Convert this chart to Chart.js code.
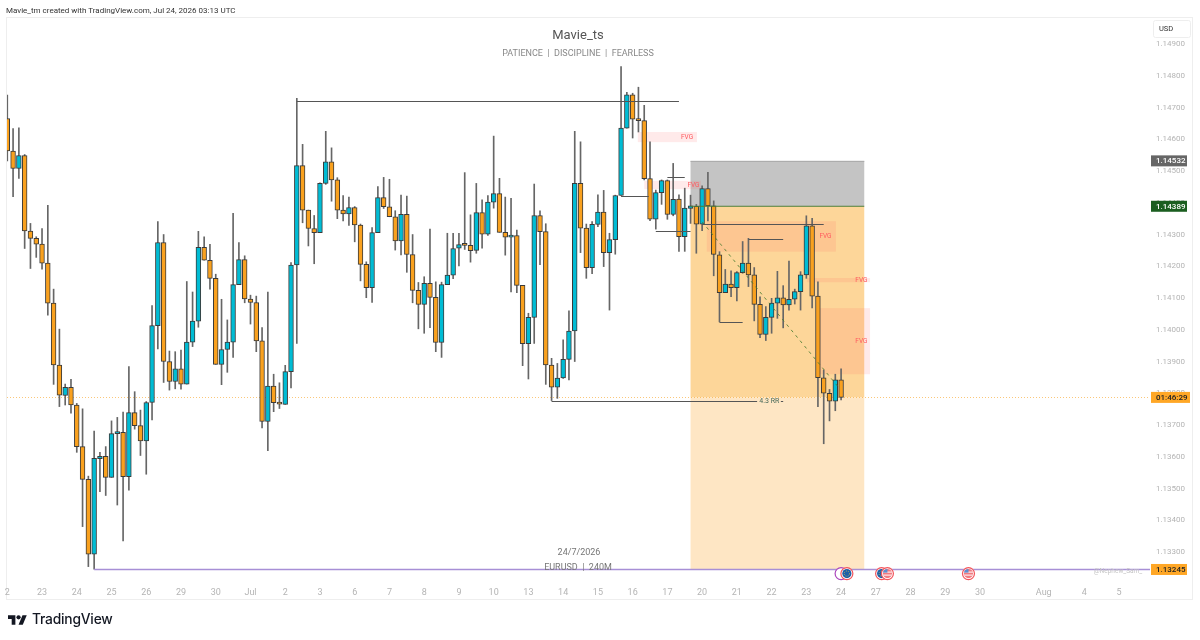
<!DOCTYPE html>
<html>
<head>
<meta charset="utf-8">
<script src="https://cdn.jsdelivr.net/npm/chart.js@4"></script>
<style>
  body { margin: 0; background: #fff; width: 1200px; height: 640px; overflow: hidden; position: relative; }
  #frame { position: absolute; left: 6px; top: 17px; width: 1187px; height: 583px; border: 1px solid #eeeeee; box-sizing: border-box; }
  #chart { position: absolute; left: 0; top: 0; }
  #logo { position: absolute; left: 8px; top: 615px; }
  #brand { position: absolute; left: 32px; top: 611px; font: 500 13.8px Inter, sans-serif; color: #131722; letter-spacing: -0.2px; }
</style>
</head>
<body>
<div id="frame"></div>
<canvas id="chart" width="1200" height="640"></canvas>
<svg id="logo" width="19" height="10" viewBox="0 0 36 18" fill="#131722">
  <path d="M14 18H7V7H0V0h14z"/><circle cx="20" cy="4" r="4"/><path d="M28 18h-8l7.5-18h8z"/>
</svg>
<div id="brand">TradingView</div>
<script>
const openPrices = [
  1.14665,1.14563,1.14508,1.14549,1.14311,1.14288,1.14270,1.14210,1.14084,1.13889,
  1.13793,1.13819,1.13763,1.13632,1.13529,1.13293,1.13594,1.13601,1.13535,1.13673,
  1.13677,1.13537,1.13739,1.13698,1.13650,1.13771,1.14013,1.14275,1.13900,1.13837,
  1.13877,1.13829,1.13961,1.14027,1.14260,1.14219,1.14162,1.13891,1.13938,1.13961,
  1.14142,1.14221,1.14097,1.14086,1.13965,1.13711,1.13823,1.13770,1.13765,1.13868,
  1.14204,1.14517,1.14377,1.14319,1.14306,1.14461,1.14529,1.14472,1.14377,1.14365,
  1.14385,1.14330,1.14206,1.14133,1.14306,1.14416,1.14387,1.14356,1.14280,1.14364,
  1.14237,1.14124,1.14080,1.14146,1.14102,1.13960,1.14142,1.14172,1.14257,1.14269,
  1.14266,1.14250,1.14369,1.14301,1.14402,1.14429,1.14307,1.14292,1.14297,1.14140,
  1.13956,1.14039,1.14360,1.14309,1.13889,1.13819,1.13848,1.13907,1.13996,1.14461,
  1.14320,1.14196,1.14332,1.14371,1.14243,1.14284,1.14423,1.14635,1.14740,1.14663,
  1.14659,1.14476,1.14348,1.14432,1.14470,1.14363,1.14412,1.14293,1.14382,1.14389,
  1.14333,1.14445,1.14390,1.14236,1.14117,1.14144,1.14133,1.14180,1.14210,1.14173,
  1.14080,1.13985,1.14039,1.14084,1.14101,1.14078,1.14096,1.14120,1.14173,1.14327,
  1.14106,1.13849,1.13800,1.13775,1.13842
];
const highPrices = [
  1.14739,1.14634,1.14636,1.14552,1.14335,1.14293,1.14319,1.14392,1.14128,1.14002,
  1.13829,1.13844,1.13768,1.13751,1.13539,1.13681,1.13614,1.13632,1.13713,1.13724,
  1.13741,1.13884,1.13805,1.13747,1.13774,1.14076,1.14341,1.14300,1.13933,1.13931,
  1.13936,1.14152,1.14119,1.14310,1.14293,1.14269,1.14175,1.14096,1.14031,1.14367,
  1.14275,1.14233,1.14109,1.14106,1.14007,1.14119,1.13860,1.13833,1.13888,1.14212,
  1.14729,1.14584,1.14377,1.14360,1.14463,1.14625,1.14573,1.14479,1.14423,1.14418,
  1.14388,1.14333,1.14214,1.14322,1.14451,1.14480,1.14474,1.14375,1.14424,1.14421,
  1.14300,1.14149,1.14167,1.14317,1.14151,1.14150,1.14304,1.14304,1.14304,1.14495,
  1.14362,1.14461,1.14409,1.14423,1.14610,1.14477,1.14418,1.14414,1.14314,1.14140,
  1.14052,1.14459,1.14375,1.14334,1.13910,1.13894,1.13968,1.14060,1.14625,1.14592,
  1.14333,1.14341,1.14425,1.14439,1.14304,1.14424,1.14829,1.14748,1.14745,1.14764,
  1.14707,1.14592,1.14440,1.14472,1.14472,1.14524,1.14425,1.14446,1.14424,1.14395,
  1.14453,1.14496,1.14406,1.14246,1.14190,1.14186,1.14183,1.14278,1.14288,1.14196,
  1.14104,1.14073,1.14099,1.14184,1.14139,1.14216,1.14128,1.14183,1.14359,1.14351,
  1.14151,1.13873,1.13812,1.13860,1.13877
];
const lowPrices = [
  1.14532,1.14419,1.14477,1.14256,1.14193,1.14228,1.14191,1.14046,1.13828,1.13758,
  1.13763,1.13737,1.13614,1.13380,1.13254,1.13246,1.13490,1.13478,1.13535,1.13448,
  1.13335,1.13495,1.13687,1.13604,1.13545,1.13716,1.13940,1.13834,1.13810,1.13814,
  1.13813,1.13829,1.13947,1.14008,1.14219,1.14128,1.13891,1.13827,1.13866,1.13913,
  1.14142,1.14085,1.14018,1.13931,1.13691,1.13619,1.13742,1.13752,1.13765,1.13817,
  1.13957,1.14337,1.14264,1.14208,1.14306,1.14458,1.14405,1.14350,1.14343,1.14329,
  1.14277,1.14154,1.14101,1.14086,1.14306,1.14382,1.14356,1.14251,1.14236,1.14181,
  1.14085,1.14003,1.13989,1.14007,1.13931,1.13913,1.14142,1.14161,1.14201,1.14253,
  1.14213,1.14241,1.14257,1.14297,1.14383,1.14307,1.14235,1.14119,1.14117,1.13887,
  1.13845,1.13957,1.14205,1.13828,1.13777,1.13784,1.13847,1.13842,1.13900,1.14243,
  1.14162,1.14177,1.14325,1.14199,1.14062,1.14238,1.14423,1.14635,1.14604,1.14623,
  1.14472,1.14344,1.14317,1.14395,1.14348,1.14359,1.14247,1.14247,1.14335,1.14241,
  1.14312,1.14343,1.14170,1.14025,1.14117,1.14104,1.14091,1.14178,1.14136,1.14028,
  1.13975,1.13966,1.13989,1.14036,1.14006,1.14062,1.14081,1.14062,1.14162,1.14069,
  1.13758,1.13641,1.13713,1.13745,1.13779
];
const closePrices = [
  1.14563,1.14508,1.14549,1.14311,1.14288,1.14270,1.14210,1.14084,1.13889,1.13794,
  1.13819,1.13763,1.13632,1.13529,1.13293,1.13595,1.13601,1.13535,1.13673,1.13677,
  1.13537,1.13739,1.13698,1.13650,1.13771,1.14013,1.14275,1.13900,1.13837,1.13877,
  1.13829,1.13961,1.14027,1.14260,1.14219,1.14162,1.13891,1.13938,1.13961,1.14142,
  1.14221,1.14097,1.14086,1.13965,1.13711,1.13823,1.13770,1.13766,1.13868,1.14204,
  1.14517,1.14377,1.14319,1.14306,1.14461,1.14529,1.14472,1.14377,1.14365,1.14385,
  1.14330,1.14206,1.14133,1.14306,1.14416,1.14388,1.14356,1.14280,1.14364,1.14237,
  1.14124,1.14080,1.14146,1.14102,1.13960,1.14142,1.14172,1.14256,1.14268,1.14266,
  1.14249,1.14369,1.14301,1.14402,1.14429,1.14307,1.14292,1.14296,1.14140,1.13956,
  1.14039,1.14360,1.14309,1.13889,1.13819,1.13848,1.13907,1.13996,1.14461,1.14320,
  1.14196,1.14332,1.14371,1.14243,1.14284,1.14423,1.14635,1.14740,1.14663,1.14659,
  1.14476,1.14348,1.14432,1.14470,1.14363,1.14411,1.14293,1.14383,1.14390,1.14333,
  1.14445,1.14390,1.14237,1.14117,1.14144,1.14133,1.14180,1.14210,1.14173,1.14080,
  1.13985,1.14039,1.14084,1.14101,1.14078,1.14096,1.14120,1.14173,1.14327,1.14106,
  1.13849,1.13800,1.13775,1.13842,1.13787
];

const priceTicks = [1.133,1.134,1.135,1.136,1.137,1.138,1.139,1.14,1.141,1.142,1.143,1.144,1.145,1.146,1.147,1.148,1.149];
const dayTickBars = [0,6,12,18,24,30,36,42,48,54,60,66,72,78,84,90,96,102,108,114,120,126,132,138,144,150,156,162,168,179,186,192];
const dayTickLabels = ["2","23","24","25","26","29","30","Jul","2","3","6","7","8","9","10","13","14","15","16","17","20","21","22","23","24","27","28","29","30","Aug","4","5"];

// position tool levels
const tradeFrom = 118, tradeTo = 148;
const stopPrice = 1.14532, entryPrice = 1.14389, markPrice = 1.13787, targetPrice = 1.13245;

// fair value gaps
const fvgFrom = [108.9, 110, 120.8, 138.1, 140];
const fvgTo = [119.1, 119.8, 143.1, 149, 149];
const fvgHigh = [1.14623, 1.14469, 1.14342, 1.14163, 1.14068];
const fvgLow = [1.14591, 1.14443, 1.14246, 1.14150, 1.13860];
const fvgLabelBar = [117.4, 118.5, 141.3, 147.5, 147.5];

// horizontal drawn levels
const levelFrom = [50, 106, 112, 114, 94, 133.6, 120, 128, 123];
const levelTo = [116, 110.8, 118, 117, 129.5, 134, 141, 134, 127];
const levelPrice = [1.14720, 1.14420, 1.14312, 1.14482, 1.13775, 1.13775, 1.14333, 1.14287, 1.14025];

const trendBars = [120, 143.5];
const trendPrices = [1.14340, 1.13820];

const eventBars = [144, 145, 151, 152, 166];
const eventKinds = ["ring", "eu", "eu", "us", "us"];
const eventPrice = 1.13232;

const badgePrices = [1.14532, 1.14389, 1.13787, 1.13245];
const badgeLabels = ["1.14532", "1.14389", "01:46:29", "1.13245"];

const barIndex = openPrices.map((_, i) => i);
const upColor = "#00bcd4";
const downColor = "#f9a11f";
const font = "Roboto, sans-serif";

const overlayPlugin = {
  id: "overlay",
  beforeDatasetsDraw(chart) {
    const { ctx, scales: { x, y } } = chart;
    const left = x.getPixelForValue(tradeFrom), right = x.getPixelForValue(tradeTo);
    const band = (hi, lo, color) => {
      ctx.fillStyle = color;
      ctx.fillRect(left, y.getPixelForValue(hi), right - left, y.getPixelForValue(lo) - y.getPixelForValue(hi));
    };
    ctx.save();
    band(stopPrice, entryPrice, "#c4c4c4");
    band(entryPrice, markPrice, "#fdd699");
    band(markPrice, targetPrice, "#fee6c4");
    ctx.fillStyle = "#a8a8a8";
    ctx.fillRect(left, y.getPixelForValue(stopPrice), right - left, 1);

    // dotted line at the last price
    ctx.strokeStyle = "rgba(249,161,31,0.6)";
    ctx.setLineDash([1, 2]);
    ctx.beginPath();
    const markY = Math.round(y.getPixelForValue(markPrice)) + 0.5;
    ctx.moveTo(x.left, markY);
    ctx.lineTo(x.right, markY);
    ctx.stroke();
    ctx.setLineDash([]);

    ctx.fillStyle = "rgba(255,90,90,0.13)";
    fvgFrom.forEach((from, i) => {
      const x0 = x.getPixelForValue(from), x1 = x.getPixelForValue(fvgTo[i]);
      const y0 = y.getPixelForValue(fvgHigh[i]), y1 = y.getPixelForValue(fvgLow[i]);
      ctx.fillRect(x0, y0, x1 - x0, y1 - y0);
    });
    ctx.restore();
  },
  afterDatasetsDraw(chart) {
    const { ctx, scales: { x, y } } = chart;
    ctx.save();

    ctx.strokeStyle = "#4f7f3a";
    ctx.lineWidth = 1;
    ctx.beginPath();
    ctx.moveTo(x.getPixelForValue(tradeFrom), y.getPixelForValue(entryPrice));
    ctx.lineTo(x.getPixelForValue(tradeTo), y.getPixelForValue(entryPrice));
    ctx.stroke();

    ctx.strokeStyle = "#555";
    levelFrom.forEach((from, i) => {
      const py = Math.round(y.getPixelForValue(levelPrice[i])) + 0.5;
      ctx.beginPath();
      ctx.moveTo(x.getPixelForValue(from), py);
      ctx.lineTo(x.getPixelForValue(levelTo[i]), py);
      ctx.stroke();
    });

    ctx.strokeStyle = "#a78fd6";
    ctx.lineWidth = 1.3;
    ctx.beginPath();
    const targetY = Math.round(y.getPixelForValue(targetPrice)) + 0.5;
    ctx.moveTo(x.getPixelForValue(15), targetY);
    ctx.lineTo(x.right, targetY);
    ctx.stroke();
    ctx.lineWidth = 1;

    ctx.strokeStyle = "rgba(76,125,50,0.85)";
    ctx.setLineDash([3, 4]);
    ctx.beginPath();
    ctx.moveTo(x.getPixelForValue(trendBars[0]), y.getPixelForValue(trendPrices[0]));
    ctx.lineTo(x.getPixelForValue(trendBars[1]), y.getPixelForValue(trendPrices[1]));
    ctx.stroke();
    ctx.setLineDash([]);

    // labels on the drawings
    ctx.textAlign = "center";
    ctx.textBaseline = "middle";
    ctx.font = "6.5px " + font;
    ctx.fillStyle = "#ff5a5f";
    fvgLabelBar.forEach((bar, i) => {
      ctx.fillText("FVG", x.getPixelForValue(bar), y.getPixelForValue((fvgHigh[i] + fvgLow[i]) / 2));
    });
    ctx.fillStyle = "#4a6a5a";
    ctx.font = "7px " + font;
    ctx.fillText("4.3 RR", x.getPixelForValue(131.6), y.getPixelForValue(levelPrice[4]));

    // news events on the time axis
    eventBars.forEach((bar, i) => {
      const cx = x.getPixelForValue(bar), cy = y.getPixelForValue(eventPrice);
      const kind = eventKinds[i];
      ctx.beginPath();
      ctx.arc(cx, cy, 6, 0, Math.PI * 2);
      ctx.fillStyle = "#fff";
      ctx.fill();
      ctx.lineWidth = 1.2;
      ctx.strokeStyle = kind === "ring" ? "#ab47bc" : "#f2545b";
      ctx.stroke();
      if (kind === "ring") return;
      ctx.save();
      ctx.beginPath();
      ctx.arc(cx, cy, 4.6, 0, Math.PI * 2);
      ctx.clip();
      if (kind === "eu") {
        ctx.fillStyle = "#1d5fa8";
        ctx.fillRect(cx - 5, cy - 5, 10, 10);
        ctx.strokeStyle = "#d9c24a";
        ctx.lineWidth = 0.8;
        ctx.setLineDash([1, 1.2]);
        ctx.beginPath();
        ctx.arc(cx, cy, 2.6, 0, Math.PI * 2);
        ctx.stroke();
        ctx.setLineDash([]);
      } else {
        ctx.fillStyle = "#f07a80";
        ctx.fillRect(cx - 5, cy - 5, 10, 10);
        ctx.fillStyle = "#fff";
        ctx.fillRect(cx - 5, cy - 2, 10, 1);
        ctx.fillRect(cx - 5, cy + 1, 10, 1);
        ctx.fillStyle = "#5b8fd0";
        ctx.fillRect(cx - 5, cy - 5, 5, 4);
      }
      ctx.restore();
    });

    // header and centre texts
    ctx.textAlign = "center";
    ctx.fillStyle = "#555";
    ctx.font = "13px " + font;
    ctx.fillText("Mavie_ts", 578, 36);
    ctx.fillStyle = "#888";
    ctx.font = "9px " + font;
    ctx.fillText("PATIENCE  |  DISCIPLINE  |  FEARLESS", 578, 54);
    ctx.fillStyle = "#777";
    ctx.fillText("24/7/2026", 579, 553);
    ctx.fillText("EURUSD  |  240M", 578, 568);
    ctx.fillStyle = "#c4c4c4";
    ctx.font = "6.5px " + font;
    ctx.fillText("@Nephew_Sam_", 1118, 571);
    ctx.textAlign = "left";
    ctx.fillStyle = "#333";
    ctx.font = "8px " + font;
    ctx.fillText("Mavie_tm created with TradingView.com, Jul 24, 2026 03:13 UTC", 6, 10.5);

    // price badges
    const badgeFill = ["#666666", "#1b5e20", "#ffa726", "#ffa726"];
    const badgeText = ["#fff", "#fff", "#222", "#222"];
    const badgeWidth = [36, 36, 39, 36];
    ctx.font = "500 8px " + font;
    badgePrices.forEach((price, i) => {
      const py = y.getPixelForValue(price);
      ctx.fillStyle = badgeFill[i];
      ctx.fillRect(x.right + 1, py - 5.5, badgeWidth[i], 11);
      ctx.fillStyle = badgeText[i];
      ctx.fillText(badgeLabels[i], x.right + 6, py + 0.5);
    });

    // currency box
    ctx.strokeStyle = "#eeeeee";
    ctx.lineWidth = 1;
    ctx.fillStyle = "#fff";
    ctx.beginPath();
    ctx.roundRect(1153.5, 20.5, 37, 17, 2);
    ctx.fill();
    ctx.stroke();
    ctx.fillStyle = "#333";
    ctx.font = "7.5px " + font;
    ctx.fillText("USD", 1159, 29.5);
    ctx.restore();
  }
};

new Chart(document.getElementById("chart"), {
  type: "bar",
  plugins: [overlayPlugin],
  data: {
    datasets: [
      {
        label: "Body",
        order: 1,
        data: barIndex.map((i) => ({ x: i, y: [openPrices[i], closePrices[i]] })),
        backgroundColor: barIndex.map((i) => (closePrices[i] >= openPrices[i] ? upColor : downColor)),
        borderColor: "#3a3a3a",
        borderWidth: 1,
        borderSkipped: false,
        barThickness: 4.8,
        minBarLength: 2,
      },
      {
        label: "Wick",
        order: 2,
        data: barIndex.map((i) => ({ x: i, y: [lowPrices[i], highPrices[i]] })),
        backgroundColor: "#666666",
        barThickness: 1,
      },
    ],
  },
  options: {
    responsive: false,
    animation: false,
    events: [],
    layout: { padding: { left: 7, right: 7, top: 18, bottom: 40 } },
    plugins: { legend: { display: false }, tooltip: { enabled: false } },
    scales: {
      x: {
        type: "linear",
        stacked: true,
        offset: false,
        min: -0.05,
        max: 197.35,
        grid: { display: false, drawTicks: false },
        border: { display: false },
        afterFit(scale) { scale.height = 21; scale.paddingLeft = 0; scale.paddingRight = 0; },
        afterBuildTicks(scale) { scale.ticks = dayTickBars.map((value) => ({ value })); },
        ticks: {
          autoSkip: false,
          maxRotation: 0,
          padding: 8,
          color: "#b4b4b4",
          font: { family: "Roboto", size: 9 },
          callback: (value) => dayTickLabels[dayTickBars.indexOf(value)],
        },
      },
      y: {
        position: "right",
        stacked: false,
        min: 1.13215,
        max: 1.14982,
        grid: { display: false, drawTicks: false },
        border: { display: false },
        afterFit(scale) { scale.width = 43; scale.paddingTop = 0; scale.paddingBottom = 0; },
        afterBuildTicks(scale) { scale.ticks = priceTicks.map((value) => ({ value })); },
        ticks: {
          padding: 6,
          color: "#b4b4b4",
          font: { family: "Roboto", size: 8 },
          callback: (value) => value.toFixed(5),
        },
      },
    },
  },
});
</script>
</body>
</html>
